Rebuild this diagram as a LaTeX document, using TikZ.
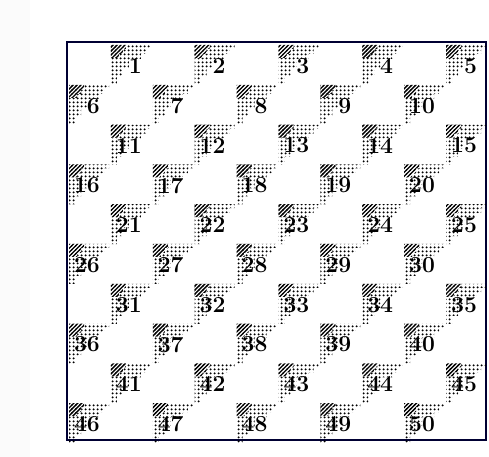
\documentclass[tikz,border=0pt]{standalone}
\usetikzlibrary{patterns.meta}

\tikzdeclarepattern{
  name=celldots,
  type=uncolored,
  bottom left={(0pt,0pt)},
  top right={(3.6pt,3.6pt)},
  tile size={(3.6pt,3.6pt)},
  code={\fill (1.8pt,1.8pt) circle (1.2pt);}
}
\tikzdeclarepattern{
  name=cellhatch,
  type=uncolored,
  bottom left={(-0.6pt,-0.6pt)},
  top right={(4.6pt,4.6pt)},
  tile size={(4pt,4pt)},
  code={\draw[line width=1.3pt] (-0.6pt,-0.6pt) -- (4.6pt,4.6pt);}
}

\begin{document}
\begin{tikzpicture}[x=1bp,y=1bp,
  frame/.style={draw=black!80!blue, line width=1.6bp},
  dotpatch/.style={pattern=celldots, pattern color=black},
  hatchpatch/.style={fill=white, postaction={pattern=cellhatch, pattern color=black}},
  num/.style={anchor=east, inner sep=0pt, font=\fontsize{23}{23}\selectfont\bfseries}
]
\useasboundingbox (0,0) rectangle (489,457);
\fill[gray!3] (0,0) rectangle (30,457);

% outer frame
\draw[frame] (67,415) rectangle (486,17);

% the fifty cells, five per row, offset on every other row
\foreach \r in {0,...,9}{
  \foreach \k in {0,...,4}{
    \pgfmathtruncatemacro{\n}{\r*5+\k+1}
    \pgfmathtruncatemacro{\c}{2*\k+1-mod(\r,2)}
    \pgfmathsetmacro{\cx}{67+\c*41.9+2}
    \pgfmathsetmacro{\cy}{415-\r*39.8-3}
    \begin{scope}[shift={(\cx,\cy)}]
      \fill[dotpatch] (0,0) -- (40,0) -- (40,-4) -- (35,-4) -- (35,-9) -- (30,-9) -- (30,-14)
        -- (18,-14) -- (18,-24) -- (12,-24) -- (12,-32) -- (6,-32) -- (6,-40) -- (0,-40) -- cycle;
      \fill[hatchpatch] (0,0) -- (15,0) -- (15,-4) -- (12,-4) -- (12,-9) -- (8,-9) -- (8,-13) -- (0,-13) -- cycle;
    \end{scope}
    \node[num] (n\n) at (\cx+31,\cy-21) {\n};
  }
}
\end{tikzpicture}
\end{document}
